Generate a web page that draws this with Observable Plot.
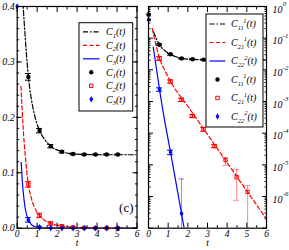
<!DOCTYPE html>
<html><head><meta charset="utf-8">
<script src="https://cdn.jsdelivr.net/npm/d3@7"></script>
<script src="https://cdn.jsdelivr.net/npm/@observablehq/plot@0.6"></script>
<style>
body{margin:0;background:#fff;}
#wrap{position:relative;width:289px;height:250px;overflow:hidden;}
#wrap svg{position:absolute;top:0;}
</style></head><body><div id="wrap"></div>
<script>
// ---------- data ----------
const tPts = [0, 0.56, 1.12, 1.68, 2.24, 2.8, 3.36, 3.92, 4.48, 5.04];

// left panel (linear): measured points
const c1Pts = [null, 0.273, 0.176, 0.148, 0.138, 0.134, 0.133, 0.133, 0.133, 0.133];
const c1Err = [0, 0.006, 0.004, 0.003, 0.002, 0.0015, 0.001, 0.001, 0.001, 0.001];
const c2Pts = [null, 0.079, 0.023, 0.0085, 0.0036, 0.0015, 0.0007, 0.0003, 0.0001, 0.00005];
const c2Err = [0, 0.005, 0.004, 0.003, 0.002, 0.0015, 0.001, 0.001, 0.001, 0.001];
const c3Pts = [0.40, 0.015, 0.0015, 0.0002, 0, 0, 0, 0, 0, 0];
const c3Err = [0, 0.004, 0.002, 0.001, 0.0005, 0.0005, 0.0005, 0.0005, 0.0005, 0.0005];

// left panel fitted curves
const c1LineT = [0.22, 0.3, 0.4, 0.56, 0.7, 0.85, 1.12, 1.4, 1.68, 2.24, 2.8, 3.5, 4.5, 6];
const c1LineV = [0.45, 0.40, 0.345, 0.273, 0.235, 0.207, 0.176, 0.159, 0.148, 0.138, 0.134, 0.133, 0.1325, 0.1325];
const c2LineT = [0.19, 0.25, 0.3, 0.4, 0.56, 0.7, 0.85, 1.12, 1.4, 1.68, 2.24, 2.8, 3.5, 4.5, 6];
const c2LineV = [0.256, 0.212, 0.18, 0.132, 0.079, 0.055, 0.039, 0.023, 0.0135, 0.0085, 0.0036, 0.0015, 0.0006, 0.0002, 0.00003];
const c3LineT = [0.2, 0.25, 0.3, 0.4, 0.56, 0.7, 0.85, 1.12, 1.5, 2, 3, 6];
const c3LineV = [0.119, 0.088, 0.066, 0.036, 0.015, 0.0068, 0.0032, 0.0011, 0.0002, 0.00003, 0, 0];

// right panel (log): measured points
const c11Pts = [0.56, 0.062, 0.031, 0.023, 0.0215, 0.021, 0.021, 0.021, 0.021, 0.021];
const c11Lo  = [0.54, 0.058, 0.029, 0.022, 0.0208, 0.0204, 0.0204, 0.0204, 0.0204, 0.0204];
const c11Hi  = [0.58, 0.066, 0.033, 0.024, 0.0222, 0.0216, 0.0216, 0.0216, 0.0216, 0.0216];
const c21Pts = [null, 0.023, 0.0043, 0.00114, 0.00035, 0.000132, 0.000039, 0.000014, 0.0000041, 0.0000014];
const c21Lo  = [null, 0.020, 0.0038, 0.00100, 0.00031, 0.000116, 0.000035, 0.0000096, 0.00000076, 1e-9];
const c21Hi  = [null, 0.026, 0.0048, 0.00128, 0.00039, 0.000150, 0.000043, 0.000017, 0.0000072, 0.0000022];
const c22Pts = [0.38, 0.0024, 0.000025, 0.00000029, null, null, null, null, null, null];
const c22Lo  = [0.36, 0.0021, 0.000021, 1e-9, null, null, null, null, null, null];
const c22Hi  = [0.40, 0.0027, 0.000029, 0.0000036, null, null, null, null, null, null];

// right panel fitted curves
const c11LineT = [0.25, 0.4, 0.56, 0.8, 1.12, 1.4, 1.68, 2.24, 2.8, 4, 6];
const c11LineV = [0.16, 0.095, 0.062, 0.042, 0.031, 0.026, 0.023, 0.0215, 0.021, 0.021, 0.021];
const c21LineT = [0.19, 0.3, 0.4, 0.56, 0.8, 1.12, 2, 3, 4, 5, 6];
const c21LineV = [0.2, 0.1, 0.054, 0.023, 0.0105, 0.0043, 0.00071, 0.000091, 0.0000117, 0.0000015, 0.000000195];
const c22LineT = [0.24, 0.4, 0.56, 0.8, 1.12, 1.4, 1.68, 1.9];
const c22LineV = [0.052, 0.0112, 0.0024, 0.000295, 0.000025, 0.0000027, 0.00000029, 0.00000005];

// ticks & labels
const xMajor = [0, 1, 2, 3, 4, 5, 6];
const xMinor = [0.5, 1.5, 2.5, 3.5, 4.5, 5.5];
const yMajor = [0, 0.1, 0.2, 0.3, 0.4];
const yMinor = d3.range(0, 0.4001, 0.02);
const logMajor = [1e-7, 1e-6, 1e-5, 1e-4, 1e-3, 1e-2, 1e-1, 1];
const logLabelVals = [1, 1e-1, 1e-2, 1e-3, 1e-4, 1e-5, 1e-6];
const logLabelExp = ["0", "-1", "-2", "-3", "-4", "-5", "-6"];
const logMinor = [];
for (let e = -7; e < 0; e++) for (let m = 2; m <= 9; m++) logMinor.push(m * Math.pow(10, e));

const leftLegend = [["1", null], ["2", null], ["3", null], ["1", null], ["2", null], ["3", null]];
const rightLegend = [["11", "1"], ["21", "1"], ["22", "2"], ["11", "1"], ["21", "1"], ["22", "2"]];

// ---------- helpers ----------
const serif = "Liberation Serif";
const BLACK = "#000", RED = "#ff0000", BLUE = "#0000ff";
const pts = (v, lo, hi) => tPts.map((t, i) => ({t, v: v[i], lo: lo[i], hi: hi[i]})).filter(d => d.v != null);
const ptsErr = (v, e) => tPts.map((t, i) => ({t, v: v[i], lo: v[i] == null ? null : v[i] - e[i], hi: v[i] == null ? null : v[i] + e[i]})).filter(d => d.v != null);
const curve = (T, V) => T.map((t, i) => ({t, v: V[i]}));

function errMarks(data, color, opacity = 1) {
  return [
    Plot.ruleX(data, {x: "t", y1: "lo", y2: "hi", stroke: color, strokeOpacity: opacity, strokeWidth: 1, clip: true}),
    Plot.ruleY(data, {y: "lo", x1: "t", x2: "t", insetLeft: -3, insetRight: -3, stroke: color, strokeOpacity: opacity, strokeWidth: 1, clip: true}),
    Plot.ruleY(data, {y: "hi", x1: "t", x2: "t", insetLeft: -3, insetRight: -3, stroke: color, strokeOpacity: opacity, strokeWidth: 1, clip: true})
  ];
}
function boxTicks(yMaj, yMin) {
  const L = 5, S = 2.5, o = {fill: "none", label: null};
  return [
    Plot.axisX({anchor: "bottom", ticks: xMajor, tickSize: L, dy: -L, ...o}),
    Plot.axisX({anchor: "bottom", ticks: xMinor, tickSize: S, dy: -S, ...o}),
    Plot.axisX({anchor: "top", ticks: xMajor, tickSize: L, dy: L, ...o}),
    Plot.axisX({anchor: "top", ticks: xMinor, tickSize: S, dy: S, ...o}),
    Plot.axisY({anchor: "left", ticks: yMaj, tickSize: L, dx: L, ...o}),
    Plot.axisY({anchor: "left", ticks: yMin, tickSize: S, dx: S, ...o}),
    Plot.axisY({anchor: "right", ticks: yMaj, tickSize: L, dx: -L, ...o}),
    Plot.axisY({anchor: "right", ticks: yMin, tickSize: S, dx: -S, ...o}),
    Plot.axisX({anchor: "bottom", ticks: xMajor, tickSize: 0, tickPadding: 1.8, tickFormat: d3.format("d"),
      fontFamily: serif, fontStyle: "italic", fontSize: 9.5, label: null}),
    Plot.text(["t"], {frameAnchor: "bottom", dy: 17.3, text: d => d, fontFamily: serif, fontStyle: "italic", fontSize: 9.5})
  ];
}

// ---------- left panel ----------
const L1 = ptsErr(c1Pts, c1Err), L2 = ptsErr(c2Pts, c2Err), L3 = ptsErr(c3Pts, c3Err);
const left = Plot.plot({
  width: 142, height: 250,
  marginLeft: 16.7, marginRight: 5.5, marginTop: 6, marginBottom: 22.3,
  x: {domain: [0, 6], label: null},
  y: {domain: [0, 0.4], label: null},
  style: {fontFamily: serif, background: "transparent", overflow: "visible", color: "#000"},
  marks: [
    Plot.line(curve(c1LineT, c1LineV), {x: "t", y: "v", stroke: BLACK, strokeWidth: 1.2, strokeDasharray: "5,2,1.5,2", curve: "monotone-x", clip: true}),
    Plot.line(curve(c2LineT, c2LineV), {x: "t", y: "v", stroke: RED, strokeWidth: 1.2, strokeDasharray: "4,2.5", curve: "monotone-x", clip: true}),
    Plot.line(curve(c3LineT, c3LineV), {x: "t", y: "v", stroke: BLUE, strokeWidth: 1.2, curve: "monotone-x", clip: true}),
    ...errMarks(L2, RED), ...errMarks(L1, BLACK), ...errMarks(L3, BLUE),
    Plot.dot(L2, {x: "t", y: "v", symbol: "square", r: 1.9, fill: "none", stroke: RED, strokeWidth: 1}),
    Plot.dot(L1, {x: "t", y: "v", r: 2.2, fill: BLACK}),
    Plot.dot(L3, {x: "t", y: "v", symbol: "diamond", r: 2, fill: BLUE}),
    Plot.frame({stroke: BLACK, strokeWidth: 1.2}),
    ...boxTicks(yMajor, yMinor),
    Plot.axisY({anchor: "left", ticks: yMajor, tickSize: 0, tickPadding: 2.5, tickFormat: d3.format(".1f"),
      fontFamily: serif, fontStyle: "italic", fontSize: 10, label: null}),
    Plot.text(["(c)"], {frameAnchor: "bottom-right", dx: -3.5, dy: -16.5, text: d => d, textAnchor: "end", fontFamily: serif, fontSize: 13})
  ]
});
left.style.left = "0px";

// ---------- right panel ----------
const R1 = pts(c11Pts, c11Lo, c11Hi), R2 = pts(c21Pts, c21Lo, c21Hi), R3 = pts(c22Pts, c22Lo, c22Hi);
const big = d => d.hi / d.lo > 1.6;
const right = Plot.plot({
  width: 147, height: 250,
  marginLeft: 6, marginRight: 23, marginTop: 6, marginBottom: 22.3,
  x: {domain: [0, 6], label: null},
  y: {type: "log", domain: [1e-7, 1], label: null},
  style: {fontFamily: serif, background: "transparent", overflow: "visible", color: "#000"},
  marks: [
    Plot.line(curve(c11LineT, c11LineV), {x: "t", y: "v", stroke: BLACK, strokeWidth: 1.2, strokeDasharray: "5,2,1.5,2", curve: "monotone-x", clip: true}),
    Plot.line(curve(c21LineT, c21LineV), {x: "t", y: "v", stroke: RED, strokeWidth: 1.2, strokeDasharray: "4,2.5", curve: "monotone-x", clip: true}),
    Plot.line(curve(c22LineT, c22LineV), {x: "t", y: "v", stroke: BLUE, strokeWidth: 1.2, curve: "monotone-x", clip: true}),
    ...errMarks(R2.filter(d => !big(d)), RED), ...errMarks(R2.filter(big), RED, 0.45),
    ...errMarks(R1, BLACK),
    ...errMarks(R3.filter(d => !big(d)), BLUE), ...errMarks(R3.filter(big), BLUE, 0.45),
    Plot.dot(R2, {x: "t", y: "v", symbol: "square", r: 1.9, fill: "none", stroke: RED, strokeWidth: 1}),
    Plot.dot(R1, {x: "t", y: "v", r: 2.2, fill: BLACK}),
    Plot.dot(R3, {x: "t", y: "v", symbol: "diamond", r: 2, fill: BLUE}),
    Plot.frame({stroke: BLACK, strokeWidth: 1.2}),
    ...boxTicks(logMajor, logMinor),
    Plot.text(logLabelVals, {y: d => d, frameAnchor: "right", dx: 6, dy: 3, text: () => "10", textAnchor: "start",
      fontFamily: serif, fontStyle: "italic", fontSize: 10}),
    Plot.text(logLabelVals, {y: d => d, frameAnchor: "right", dx: 16.3, dy: -2.5, text: (d, i) => logLabelExp[i], textAnchor: "start",
      fontFamily: serif, fontStyle: "italic", fontSize: 6.8})
  ]
});
right.style.left = "142px";

const wrap = document.getElementById("wrap");
wrap.append(left, right);

// ---------- legends ----------
const leg = d3.create("svg").attr("width", 289).attr("height", 250).style("left", "0px");
function legend(box, names) {
  const g = leg.append("g");
  g.append("rect").attr("x", box.x).attr("y", box.y).attr("width", box.w).attr("height", box.h)
    .attr("fill", "#fff").attr("stroke", "#000").attr("stroke-width", 1);
  const styles = [
    {line: BLACK, dash: "5,2,1.5,2"}, {line: RED, dash: "4,2.5"}, {line: BLUE, dash: null},
    {sym: d3.symbolCircle, size: 15, fill: BLACK}, {sym: d3.symbolSquare, size: 12, fill: "none", stroke: RED},
    {sym: d3.symbolDiamond, size: 12.5, fill: BLUE}
  ];
  names.forEach(([sub, sup], i) => {
    const y = box.r0 + box.step * i, s = styles[i];
    if (s.line) {
      g.append("line").attr("x1", box.s1).attr("x2", box.s2).attr("y1", y).attr("y2", y)
        .attr("stroke", s.line).attr("stroke-width", 1.2).attr("stroke-dasharray", s.dash);
    } else {
      g.append("path").attr("d", d3.symbol(s.sym, s.size)()).attr("transform", `translate(${(box.s1 + box.s2) / 2},${y})`)
        .attr("fill", s.fill).attr("stroke", s.stroke || null).attr("stroke-width", 1);
    }
    const fs = 10;
    const t = g.append("text").attr("x", box.tx).attr("y", y).attr("dy", "0.33em")
      .attr("font-family", serif).attr("font-style", "italic").attr("font-size", fs);
    t.append("tspan").text("C");
    t.append("tspan").attr("font-size", 6.5).attr("dy", 2.8).text(sub);
    if (sup) t.append("tspan").attr("font-size", 6.5).attr("dy", -7.5).text(sup);
    t.append("tspan").attr("dy", sup ? 4.7 : -2.8).text("(t)");
  });
}
legend({x: 79, y: 22.7, w: 53.7, h: 88.3, r0: 31.8, step: 13.5, s1: 83, s2: 99.5, tx: 106}, leftLegend);
legend({x: 206, y: 14, w: 57, h: 113, r0: 24, step: 18.5, s1: 209.5, s2: 225.5, tx: 231}, rightLegend);
wrap.append(leg.node());
</script></body></html>
